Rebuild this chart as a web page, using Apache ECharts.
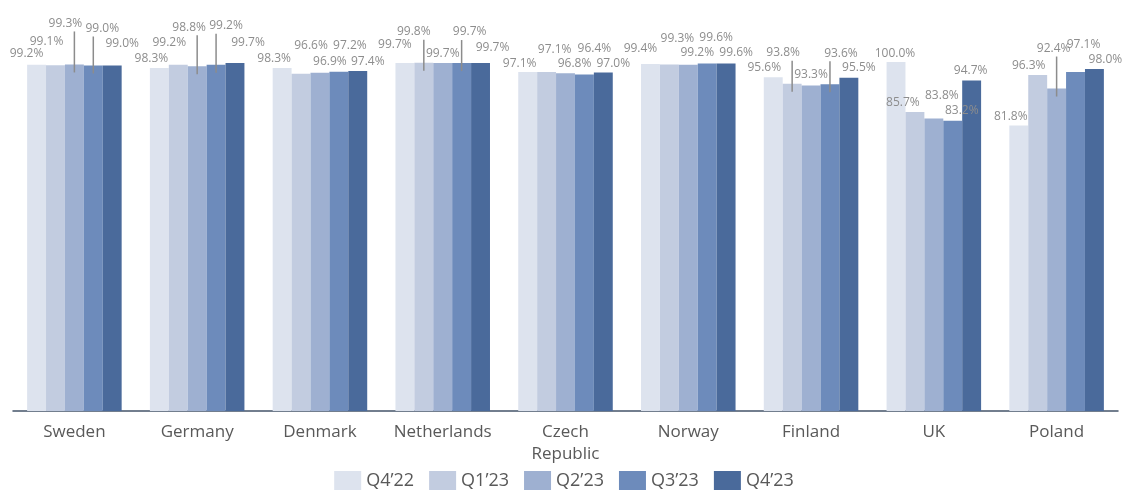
<!DOCTYPE html>
<html>
<head>
<meta charset="utf-8">
<script src="https://cdn.jsdelivr.net/npm/echarts@6/dist/echarts.min.js"></script>
<style>
html,body{margin:0;padding:0;background:#fff;}
#chart{width:1128px;height:490px;}
</style>
</head>
<body>
<div id="chart"></div>
<script>
// ---- data ----
var categories = ['Sweden', 'Germany', 'Denmark', 'Netherlands', 'Czech\nRepublic', 'Norway', 'Finland', 'UK', 'Poland'];
var seriesNames = ['Q4\u201922', 'Q1\u201923', 'Q2\u201923', 'Q3\u201923', 'Q4\u201923'];
var q4_22 = [99.2, 98.3, 98.3, 99.7, 97.1, 99.4, 95.6, 100.0, 81.8];
var q1_23 = [99.1, 99.2, 96.6, 99.8, 97.1, 99.3, 93.8, 85.7, 96.3];
var q2_23 = [99.3, 98.8, 96.9, 99.7, 96.8, 99.2, 93.3, 83.8, 92.4];
var q3_23 = [99.0, 99.2, 97.2, 99.7, 96.4, 99.6, 93.6, 83.2, 97.1];
var q4_23 = [99.0, 99.7, 97.4, 99.7, 97.0, 99.6, 95.5, 94.7, 98.0];

// ---- label layout (styling: shift of each data label from its default spot) ----
var labelShift = [
  [[-10,0],[-8,2],[-8,2],[-10,-7],[-8,2],[-10,-5],[-9,1],[-1,3],[-8,2]],
  [[-9,-13],[-9,-11],[10,-17],[-10,-20],[8,-12],[8,-15],[-9,-20],[-12,2],[-9,2]],
  [[-9,-30],[-8,-28],[10,0],[0,2],[9,1],[9,-1],[0,0],[8,-12],[-3,-29]],
  [[9,-26],[10,-28],[11,-15],[8,-20],[10,-15],[9,-15],[11,-20],[9,1],[8,-17]],
  [[10,-11],[13,-9],[10,2],[12,-4],[10,2],[10,0],[10,1],[-1,1],[11,2]]
];
// which labels (category indexes per series) get a leader line
var leaderLines = [
  [],
  [3, 6],
  [0, 1, 8],
  [0, 1, 3, 6],
  []
];
var colors = ['#dde3ee', '#c2cce0', '#9eb0d1', '#6d8bbb', '#4a6a9b'];
var CAT_GAP = 0.23;

var allValues = [q4_22, q1_23, q2_23, q3_23, q4_23];

var series = allValues.map(function (vals, s) {
  return {
    name: seriesNames[s],
    type: 'bar',
    barGap: '0%',
    barCategoryGap: (CAT_GAP * 100) + '%',
    itemStyle: { color: colors[s] },
    z: 2,
    label: {
      show: true,
      position: 'top',
      distance: 5,
      color: '#8d8d8d',
      fontSize: 12,
      fontFamily: 'Open Sans',
      formatter: function (p) { return p.value.toFixed(1) + '%'; }
    },
    data: vals.map(function (v, i) {
      return { value: v, label: { offset: labelShift[s][i] } };
    })
  };
});

// leader lines: [categoryIndex, value, seriesIndex, labelDy]
var leaderData = [];
leaderLines.forEach(function (list, s) {
  list.forEach(function (i) {
    leaderData.push([i, allValues[s][i], s, labelShift[s][i][1]]);
  });
});

series.push({
  type: 'custom',
  name: 'leader',
  silent: true,
  z: 3,
  encode: { x: 0, y: 1 },
  data: leaderData,
  renderItem: function (params, api) {
    var cat = api.value(0), v = api.value(1), s = api.value(2), dy = api.value(3);
    var pt = api.coord([cat, v]);
    var band = api.size([1, 0])[0];
    var barW = band * (1 - CAT_GAP) / 5;
    var x = pt[0] + (s - 2) * barW;
    var y1 = pt[1] - 12 + dy + 9;
    var y2 = pt[1] + 8;
    return {
      type: 'line',
      shape: { x1: x, y1: y1, x2: x, y2: y2 },
      style: { stroke: '#8c8c8c', lineWidth: 1.5 }
    };
  }
});

var chart = echarts.init(document.getElementById('chart'));
chart.setOption({
  animation: false,
  color: colors,
  textStyle: { fontFamily: 'Open Sans' },
  grid: { left: 13, right: 10, top: 62, bottom: 79, containLabel: false },
  legend: {
    top: 471,
    left: 'center',
    itemWidth: 27,
    itemHeight: 20,
    itemGap: 15,
    icon: 'rect',
    padding: 0,
    textStyle: { color: '#595959', fontSize: 18, fontFamily: 'Open Sans' },
    data: seriesNames
  },
  xAxis: {
    type: 'category',
    data: categories,
    axisLine: { lineStyle: { color: '#44546a', width: 1.5 } },
    axisTick: { show: false },
    axisLabel: { color: '#595959', fontSize: 17, margin: 10, lineHeight: 22, interval: 0, fontFamily: 'Open Sans' }
  },
  yAxis: {
    type: 'value',
    min: 0,
    max: 100,
    show: false,
    splitLine: { show: false }
  },
  series: series
});
</script>
</body>
</html>
